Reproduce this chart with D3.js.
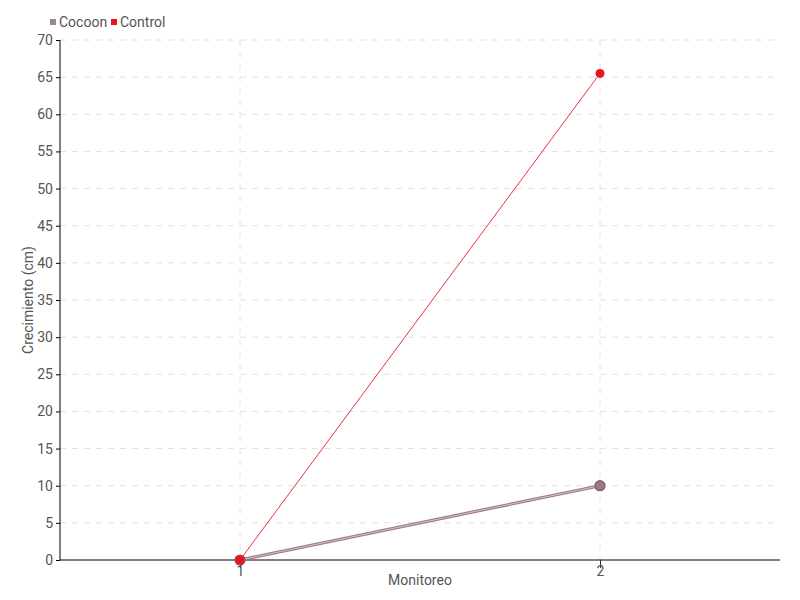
<!DOCTYPE html>
<html>
<head>
<meta charset="utf-8">
<script src="https://cdn.jsdelivr.net/npm/d3@7"></script>
<style>
  body { margin: 0; background: #fff; }
  text { font-family: "Liberation Sans Narrow", "Roboto", sans-serif; fill: #555; }
</style>
</head>
<body>
<svg id="chart" width="800" height="600"></svg>
<script>
// data
var monitoreo = [1, 2];
var cocoon = [0, 10];
var control = [0, 65.5];
var yTicks = d3.range(0, 71, 5);
var seriesNames = ["Cocoon", "Control"];
var seriesColors = ["#a0848c", "#e8141e"];

var svg = d3.select("#chart");
var margin = { left: 60, right: 20, top: 40, bottom: 40 };
var width = 800, height = 600;

var x = d3.scaleLinear().domain([0.5, 2.5]).range([margin.left, width - margin.right]);
var y = d3.scaleLinear().domain([0, 70]).range([height - margin.bottom, margin.top]);

// grid
svg.append("g").selectAll("line.h")
  .data(yTicks.filter(function(d) { return d > 0; }))
  .enter().append("line")
  .attr("x1", margin.left).attr("x2", width - margin.right)
  .attr("y1", function(d) { return y(d); }).attr("y2", function(d) { return y(d); })
  .attr("stroke", "#e2e2e2").attr("stroke-dasharray", "6,6");

svg.append("g").selectAll("line.v")
  .data(monitoreo)
  .enter().append("line")
  .attr("x1", function(d) { return x(d); }).attr("x2", function(d) { return x(d); })
  .attr("y1", margin.top).attr("y2", height - margin.bottom)
  .attr("stroke", "#e2e2e2").attr("stroke-dasharray", "6,6");

// axes
var yAxis = svg.append("g")
  .attr("transform", "translate(" + margin.left + ",0)")
  .call(d3.axisLeft(y).tickValues(yTicks).tickSize(4).tickPadding(3));
yAxis.select(".domain").attr("stroke", "#000").attr("d", "M0," + margin.top + "V" + (height - margin.bottom));
yAxis.selectAll(".tick line").attr("stroke", "#000");
yAxis.selectAll("text").style("font-size", "14px");

var xAxis = svg.append("g")
  .attr("transform", "translate(0," + (height - margin.bottom) + ")")
  .call(d3.axisBottom(x).tickValues(monitoreo).tickFormat(d3.format("d")).tickSize(8).tickPadding(-2));
xAxis.select(".domain").attr("stroke", "#000").attr("d", "M" + margin.left + ",0H" + (width - margin.right));
xAxis.selectAll(".tick line").attr("stroke", "#333");
xAxis.selectAll("text").style("font-size", "14px");

// axis titles
svg.append("text")
  .attr("transform", "translate(33," + ((margin.top + height - margin.bottom) / 2) + ") rotate(-90)")
  .attr("text-anchor", "middle")
  .style("font-size", "14px")
  .text("Crecimiento (cm)");

svg.append("text")
  .attr("x", (margin.left + width - margin.right) / 2)
  .attr("y", 585)
  .attr("text-anchor", "middle")
  .style("font-size", "14px")
  .text("Monitoreo");

// lines
var line = d3.line()
  .x(function(d, i) { return x(monitoreo[i]); })
  .y(function(d) { return y(d); });

svg.append("path").datum(cocoon)
  .attr("d", line).attr("fill", "none")
  .attr("stroke", "#9e7c86").attr("stroke-width", 3.2);
svg.append("path").datum(cocoon)
  .attr("d", line).attr("fill", "none")
  .attr("stroke", "#d2bec3").attr("stroke-width", 1);

svg.append("path").datum(control)
  .attr("d", line).attr("fill", "none")
  .attr("stroke", "#f0303a").attr("stroke-width", 1);

// points
svg.append("g").selectAll("circle")
  .data(cocoon)
  .enter().append("circle")
  .attr("cx", function(d, i) { return x(monitoreo[i]); })
  .attr("cy", function(d) { return y(d); })
  .attr("r", 5)
  .attr("fill", "#9c7a84").attr("stroke", "#7a5a62").attr("stroke-width", 1.2);

svg.append("g").selectAll("circle")
  .data(control)
  .enter().append("circle")
  .attr("cx", function(d, i) { return x(monitoreo[i]); })
  .attr("cy", function(d) { return y(d); })
  .attr("r", 4.5)
  .attr("fill", "#e8141e");

// legend
var legend = svg.append("g").attr("transform", "translate(50,22)");
var lx = [0, 61];
seriesNames.forEach(function(name, i) {
  legend.append("rect")
    .attr("x", lx[i]).attr("y", -3)
    .attr("width", 6).attr("height", 6)
    .attr("fill", seriesColors[i]);
  legend.append("text")
    .attr("x", lx[i] + 9).attr("y", 5)
    .style("font-size", "14px")
    .text(name);
});
</script>
</body>
</html>
